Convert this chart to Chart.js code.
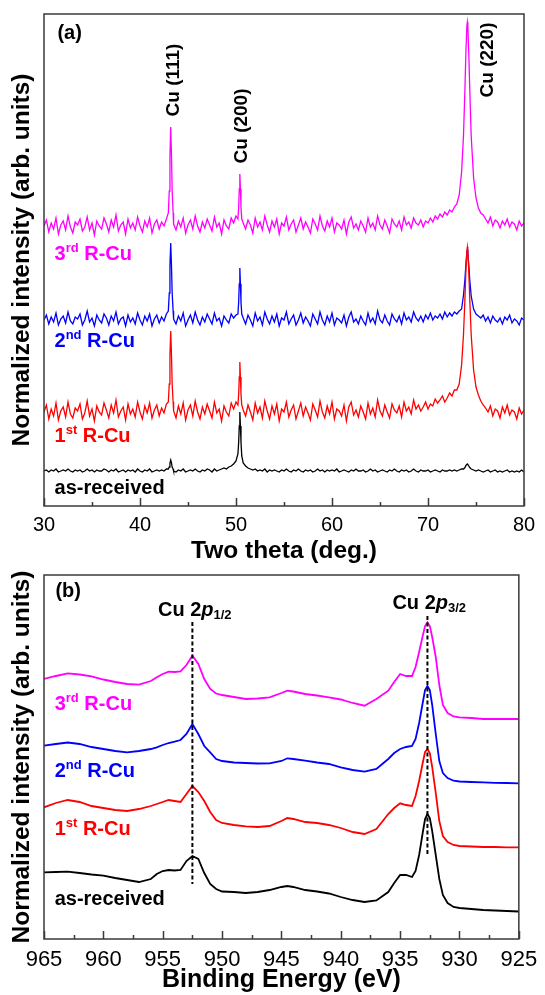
<!DOCTYPE html>
<html>
<head>
<meta charset="utf-8">
<script src="https://cdn.jsdelivr.net/npm/chart.js@4.4.1/dist/chart.umd.min.js"></script>
<style>
  body { margin: 0; background: #fff; }
  #wrap { position: relative; width: 545px; height: 995px; }
  canvas { position: absolute; left: 0; }
  #xrd { top: 0; }
  #xps { top: 568px; }
</style>
</head>
<body>
<div id="wrap">
  <canvas id="xrd" width="545" height="568"></canvas>
  <canvas id="xps" width="545" height="427"></canvas>
</div>
<script>
// ---- (a) XRD ----
var twoTheta = [
  30,30.25,30.5,30.75,31,31.25,31.5,31.75,32,32.25,32.5,32.75,
  33,33.25,33.5,33.75,34,34.25,34.5,34.75,35,35.25,35.5,35.75,
  36,36.25,36.5,36.75,37,37.25,37.5,37.75,38,38.25,38.5,38.75,
  39,39.25,39.5,39.75,40,40.25,40.5,40.75,41,41.25,41.5,41.75,
  42,42.25,42.5,42.75,
  42.95,43.05,43.12,43.2,43.28,43.35,43.45,
  43.5,43.75,44,44.25,44.5,44.75,45,45.25,45.5,45.75,46,46.25,
  46.5,46.75,47,47.25,47.5,47.75,48,48.25,48.5,48.75,49,49.25,
  49.5,49.75,50,
  50.2,50.28,50.34,50.4,50.46,50.52,50.6,
  50.75,
  51,51.25,51.5,51.75,52,52.25,52.5,52.75,53,53.25,53.5,53.75,
  54,54.25,54.5,54.75,55,55.25,55.5,55.75,56,56.25,56.5,56.75,
  57,57.25,57.5,57.75,58,58.25,58.5,58.75,59,59.25,59.5,59.75,
  60,60.25,60.5,60.75,61,61.25,61.5,61.75,62,62.25,62.5,62.75,
  63,63.25,63.5,63.75,64,64.25,64.5,64.75,65,65.25,65.5,65.75,
  66,66.25,66.5,66.75,67,67.25,67.5,67.75,68,68.25,68.5,68.75,
  69,69.25,69.5,69.75,70,70.25,70.5,70.75,71,71.25,71.5,71.75,
  72,72.25,72.5,72.75,
  73,73.25,73.5,
  73.7,73.85,73.95,74.05,74.1,74.15,74.25,74.35,74.5,
  74.75,75,75.25,75.5,75.75,76,76.25,76.5,76.75,77,77.25,77.5,
  77.75,78,78.25,78.5,78.75,79,79.25,79.5,79.75,80];

var xrd3rd = [
  280,286,274,283,277,288,272,281,285,276,290,279,
  273,284,281,287,275,279,289,276,283,271,285,280,
  277,288,282,274,286,279,291,275,281,284,272,287,
  278,283,276,289,280,274,285,279,288,273,282,286,
  277,284,280,287,
  293,315,350,379,350,315,293,
  282,276,285,279,288,273,281,286,277,290,280,274,
  284,278,287,281,275,289,279,283,272,286,280,277,
  288,283,290,
  287,299,317,332,317,299,287,
  283,
  277,286,281,273,288,279,284,276,290,281,274,285,
  279,287,272,283,280,289,276,282,286,274,281,288,
  277,284,279,273,287,282,276,290,280,275,285,279,
  288,274,283,281,277,286,272,284,289,278,282,276,
  285,280,274,288,279,283,276,290,281,277,286,280,
  273,287,282,279,285,276,289,281,284,278,288,283,
  281,286,279,285,283,288,284,290,287,292,289,294,
  291,296,294,299,
  302,311,334,
  371,418,454,480,484,479,452,417,370,
  328,308,298,293,291,287,283,289,280,286,284,278,
  285,281,287,279,284,282,276,285,280,283];

var xrd2nd = [
  186,191,182,189,184,193,181,187,190,183,194,185,
  182,189,187,192,181,186,195,184,188,180,191,186,
  183,192,188,181,190,185,194,182,187,189,180,191,
  184,188,182,193,186,181,190,185,192,180,187,191,
  183,189,185,192,
  195,213,240,263,240,213,195,
  187,182,190,185,193,180,186,191,183,194,186,181,
  189,184,192,187,182,193,185,188,180,190,186,183,
  192,188,191,
  192,204,222,238,222,204,192,
  188,
  182,191,186,180,193,185,189,181,194,187,182,190,
  184,192,180,188,186,194,182,187,191,181,186,193,
  183,189,185,180,192,187,182,194,186,181,190,184,
  193,181,188,186,183,191,180,189,194,184,187,182,
  190,185,181,193,184,188,182,195,186,183,191,185,
  181,192,187,184,190,182,193,186,189,184,194,188,
  185,190,184,191,187,193,186,190,188,192,187,194,
  189,193,190,194,
  192,195,197,
  211,227,242,254,256,253,241,226,210,
  197,192,190,188,191,185,189,183,190,186,184,188,
  182,189,186,191,183,187,185,181,188,186];

var xrd1st = [
  94,101,87,97,90,103,86,95,99,89,104,92,
  88,98,95,102,87,93,105,90,97,85,100,94,
  91,103,96,88,101,93,106,89,95,99,86,102,
  92,97,89,104,94,87,100,93,103,88,96,101,
  90,98,93,102,
  104,122,151,175,151,122,104,
  95,88,100,92,103,86,96,101,90,105,94,87,
  99,92,102,95,88,104,93,97,85,100,94,90,
  103,97,104,
  101,112,129,144,129,112,101,
  96,
  90,101,94,86,103,93,99,88,105,95,87,100,
  92,102,85,97,94,104,89,96,101,87,95,103,
  90,99,93,86,102,96,89,105,94,88,100,92,
  104,87,97,95,90,101,85,99,104,91,96,89,
  100,94,87,103,92,98,89,106,95,90,101,94,
  88,102,96,93,100,89,104,95,99,92,106,97,
  101,95,99,104,97,102,100,107,103,106,110,104,
  108,113,110,116,
  116,122,141,
  172,208,236,255,259,254,235,207,171,
  136,119,111,105,101,98,94,100,90,97,95,88,
  99,93,101,91,96,94,87,98,92,96];

var xrdAsReceived = [
  35,36,34,36,35,37,34,35,36,35,37,35,
  34,36,35,36,34,35,37,35,36,34,36,35,
  35,37,36,34,36,35,37,34,35,36,34,36,
  35,36,34,37,35,34,36,35,37,34,35,36,
  35,36,35,37,
  37,39,43,46,43,39,37,
  35,34,36,35,37,34,35,36,35,37,35,34,
  36,35,37,36,34,37,35,36,37,38,37,39,
  40,42,45,
  52,64,80,94,80,64,50,
  43,
  40,38,37,36,37,35,36,35,37,34,36,35,
  36,35,34,36,35,37,35,34,36,35,37,35,
  34,36,35,36,34,35,37,35,36,34,36,35,
  36,35,37,34,35,36,35,34,36,35,37,35,
  35,36,34,35,37,35,36,34,35,36,35,34,
  36,35,37,35,34,36,35,36,34,35,37,35,
  34,36,35,35,36,34,35,36,35,34,36,35,
  35,36,35,36,
  35,36,37,
  37,38.5,40.5,41.5,42,41.5,40,38.5,37,
  36,35,36,35,34,35,36,34,35,36,34,35,
  34,35,36,34,35,34,35,34,36,34];

var xrdTicks = [30, 40, 50, 60, 70, 80];
var xrdMinorTicks = [35, 45, 55, 65, 75];

// ---- (b) XPS Cu 2p ----
var bindingEnergy = [965,964,963,962,961,960,959,958,957,956,
  955.5,955,954.5,954,953.5,953,952.5,952,951.5,951,950.5,950,
  949,948,947,946,945,944.5,944,943,942,941,
  940,939,938,937,936,935.5,935,934.5,
  934,933.7,933.4,933.1,932.9,932.7,932.5,932.3,932,931.7,931.4,931,930.5,930,
  929,928,927,926,925];

var xps3rd = [260,263,265.7,264.5,262.7,259.5,257,255,254.3,258,
  261.7,265,267.3,267,267.7,274,283.3,275,260,250,245.5,244,
  242,240,240.5,241.7,246,248.3,247.5,245,243.5,241.7,
  239.5,236,233.3,240,248.3,257,265,263,
  263,272,287,303,313,316.7,313,302,282,254,234,226,222.5,221.7,
  221,220,220,220,220];

var xps2nd = [193.3,195,196.5,195,192,190,188,186.7,188,190,
  191.7,194,196,197.3,199,205,215,205,193,186.7,180,178,
  176.5,176,175.5,175.7,178,180.7,180,178.3,176.5,175,
  171.7,169,167.3,170,180,186,190,192,
  193,200,216,236,249,253,249,234,205,178,166,161,158.3,157.5,
  157,156.7,156.2,156,155.7];

var xps1st = [131.7,136,139,137,133,131,129,128,130,133,
  135,137,139,138,137,145,153,147,138,127,119,116,
  114,112.7,112,113,118,121,120,117,116,114,
  111,107,105,110,125,131,135.7,134,
  133,143,158,176,187,190,186,172,146,118,103,97,94,93,
  92.5,92,92,91.7,91.7];

var xpsAsReceived = [66.7,67,67.3,66,64.5,63.3,61,59,57,60,
  65,68,69,68.5,69,78,83,80,66,55,50,47.5,
  47,46,47,49,52,53,52,49,47.5,45.5,
  42,39,37,38.5,47,56,64,64,
  62,68,84,106,120,125,121,108,84,60,44,36,32,31,
  30,29,28.5,28,27.5];

var xpsTicks = [965, 960, 955, 950, 945, 940, 935, 930, 925];
var xpsMinorTicks = [962.5, 957.5, 952.5, 947.5, 942.5, 937.5, 932.5, 927.5];

var peakEnergies = [952.5, 932.7];
var peakLineTop = [317, 323];
var peakLineBottom = [55, 85];

var fontFamily = '"Liberation Sans", Arial, sans-serif';
Chart.defaults.font.family = fontFamily;
Chart.defaults.color = '#000';
var frameColor = '#3a3a3a';

function series(xs, ys) {
  return xs.map(function(x, i) { return {x: x, y: ys[i]}; });
}

function lineSet(label, xs, ys, color, width) {
  return {
    label: label,
    data: series(xs, ys),
    borderColor: color,
    borderWidth: width,
    pointRadius: 0,
    tension: 0,
    fill: false
  };
}

function fontOf(p) {
  return (p[3] || '') + ' bold ' + p[1] + 'px ' + fontFamily;
}

// frame, inward tick marks and text labels, all placed through the chart's scales
function notesPlugin(notes) {
  return {
    id: 'notes',
    afterDatasetsDraw: function(chart) {
      var ctx = chart.ctx, a = chart.chartArea;
      ctx.save();
      ctx.strokeStyle = frameColor;
      ctx.lineWidth = 1.5;
      ctx.strokeRect(a.left, a.top, a.right - a.left, a.bottom - a.top);
      [['x', 8], ['xMinor', 4]].forEach(function(t) {
        var sc = chart.scales[t[0]];
        sc.ticks.forEach(function(tk) {
          var px = Math.round(sc.getPixelForValue(tk.value)) + 0.5;
          ctx.beginPath();
          ctx.moveTo(px, a.bottom);
          ctx.lineTo(px, a.bottom - t[1]);
          ctx.stroke();
        });
      });
      ctx.restore();

      notes.forEach(function(n) {
        var px = chart.scales.x.getPixelForValue(n.x);
        var py = chart.scales.y.getPixelForValue(n.y);
        ctx.save();
        ctx.translate(px, py);
        if (n.rotate) ctx.rotate(-Math.PI / 2);
        ctx.fillStyle = n.color || '#000';
        ctx.textBaseline = 'middle';
        ctx.textAlign = 'left';
        var total = 0;
        n.parts.forEach(function(p) { ctx.font = fontOf(p); total += ctx.measureText(p[0]).width; });
        var x = n.rotate ? -total / 2 : 0;
        n.parts.forEach(function(p) {
          ctx.font = fontOf(p);
          ctx.fillText(p[0], x, p[2] || 0);
          x += ctx.measureText(p[0]).width;
        });
        ctx.restore();
      });
    }
  };
}

function tickList(arr) {
  return function(s) { s.ticks = arr.map(function(v) { return {value: v}; }); };
}

function makeScales(o) {
  return {
    x: {
      type: 'linear', position: 'bottom', weight: 1,
      min: o.min, max: o.max, reverse: o.reverse,
      afterBuildTicks: tickList(o.ticks),
      afterFit: function(s) { s.height = o.axisHeight; },
      grid: { display: false, drawTicks: false },
      border: { display: false },
      ticks: { padding: o.tickPad, font: { size: o.tickSize }, color: '#000', maxRotation: 0, autoSkip: false },
      title: { display: true, text: o.xTitle, color: '#000', font: { size: o.titleSize, weight: 'bold' }, padding: { top: 0, bottom: o.titlePad } }
    },
    xMinor: {
      type: 'linear', position: 'bottom', weight: 0,
      min: o.min, max: o.max, reverse: o.reverse,
      afterBuildTicks: tickList(o.minorTicks),
      afterFit: function(s) { s.height = 0; },
      grid: { display: false, drawTicks: false },
      border: { display: false },
      ticks: { display: false }
    },
    y: {
      type: 'linear', min: 0, max: o.yMax,
      afterFit: function(s) { s.width = 44; },
      grid: { display: false },
      border: { display: false },
      ticks: { display: false },
      title: { display: true, text: 'Normalized intensity (arb. units)', color: '#000', font: { size: 24.5, weight: 'bold' }, padding: { top: 8, bottom: 0 } }
    }
  };
}

var xrdNotes = [
  { x: 31.4, y: 473, parts: [['(a)', 20]] },
  { x: 43.5, y: 426, parts: [['Cu (111)', 19]], rotate: true },
  { x: 50.57, y: 380, parts: [['Cu (200)', 19]], rotate: true },
  { x: 76.25, y: 446, parts: [['Cu (220)', 19]], rotate: true },
  { x: 31.1, y: 252, color: '#ff00ff', parts: [['3', 20], ['rd', 13, -6], [' R-Cu', 20]] },
  { x: 31.1, y: 165, color: '#0000ff', parts: [['2', 20], ['nd', 13, -6], [' R-Cu', 20]] },
  { x: 31.1, y: 70, color: '#ff0000', parts: [['1', 20], ['st', 13, -6], [' R-Cu', 20]] },
  { x: 31.1, y: 18, parts: [['as-received', 20]] }
];

var xpsNotes = [
  { x: 964.04, y: 348, parts: [['(b)', 20]] },
  { x: 955.4, y: 329, parts: [['Cu 2', 20], ['p', 20, 0, 'italic'], ['1/2', 13, 5]] },
  { x: 935.65, y: 336, parts: [['Cu 2', 20], ['p', 20, 0, 'italic'], ['3/2', 13, 5]] },
  { x: 964.1, y: 235, color: '#ff00ff', parts: [['3', 20], ['rd', 13, -6], [' R-Cu', 20]] },
  { x: 964.1, y: 168, color: '#0000ff', parts: [['2', 20], ['nd', 13, -6], [' R-Cu', 20]] },
  { x: 964.1, y: 110, color: '#ff0000', parts: [['1', 20], ['st', 13, -6], [' R-Cu', 20]] },
  { x: 964.1, y: 40, parts: [['as-received', 20]] }
];

new Chart(document.getElementById('xrd'), {
  type: 'line',
  data: {
    datasets: [
      lineSet('as-received', twoTheta, xrdAsReceived, '#000000', 1.3),
      lineSet('1st R-Cu', twoTheta, xrd1st, '#ff0000', 1.3),
      lineSet('2nd R-Cu', twoTheta, xrd2nd, '#0000ff', 1.3),
      lineSet('3rd R-Cu', twoTheta, xrd3rd, '#ff00ff', 1.3)
    ]
  },
  options: {
    responsive: false,
    animation: false,
    devicePixelRatio: 1,
    layout: { padding: { left: 0, top: 14, right: 21, bottom: 0 } },
    plugins: { legend: { display: false }, tooltip: { enabled: false } },
    scales: makeScales({
      min: 30, max: 80, reverse: false, ticks: xrdTicks, minorTicks: xrdMinorTicks,
      axisHeight: 62, tickPad: 7, tickSize: 20, xTitle: 'Two theta (deg.)', titleSize: 24.5, titlePad: 1.8,
      yMax: 492
    })
  },
  plugins: [notesPlugin(xrdNotes)]
});

var dashSets = peakEnergies.map(function(e, i) {
  return {
    label: 'peak ' + e,
    data: [{ x: e, y: peakLineTop[i] }, { x: e, y: peakLineBottom[i] }],
    borderColor: '#000',
    borderWidth: 2,
    borderDash: [4, 2.5],
    pointRadius: 0,
    fill: false
  };
});

new Chart(document.getElementById('xps'), {
  type: 'line',
  data: {
    datasets: dashSets.concat([
      lineSet('as-received', bindingEnergy, xpsAsReceived, '#000000', 1.8),
      lineSet('1st R-Cu', bindingEnergy, xps1st, '#ff0000', 1.8),
      lineSet('2nd R-Cu', bindingEnergy, xps2nd, '#0000ff', 1.8),
      lineSet('3rd R-Cu', bindingEnergy, xps3rd, '#ff00ff', 1.8)
    ])
  },
  options: {
    responsive: false,
    animation: false,
    devicePixelRatio: 1,
    layout: { padding: { left: 0, top: 7, right: 20, bottom: 0 } },
    plugins: { legend: { display: false }, tooltip: { enabled: false } },
    scales: makeScales({
      min: 925, max: 965, reverse: true, ticks: xpsTicks, minorTicks: xpsMinorTicks,
      axisHeight: 56, tickPad: 7.8, tickSize: 22, xTitle: 'Binding Energy (eV)', titleSize: 25, titlePad: 0,
      yMax: 364
    })
  },
  plugins: [notesPlugin(xpsNotes)]
});
</script>
</body>
</html>
